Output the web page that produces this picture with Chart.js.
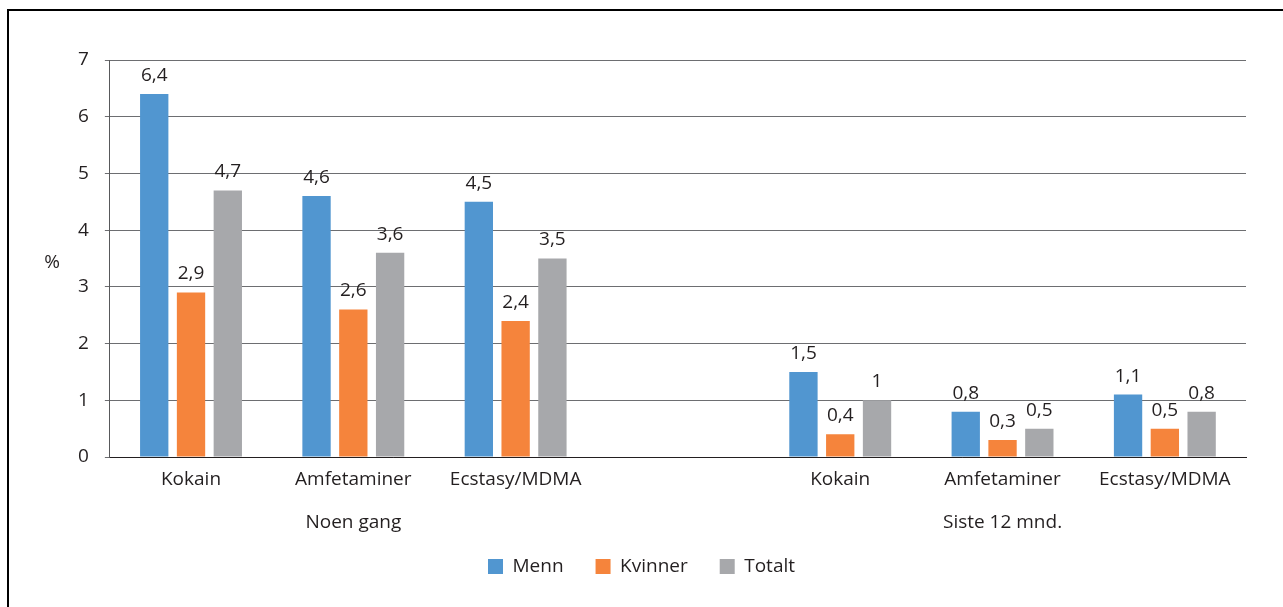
<!DOCTYPE html>
<html>
<head>
<meta charset="utf-8">
<script src="https://cdn.jsdelivr.net/npm/chart.js@4"></script>
<style>
  html, body { margin: 0; padding: 0; background: #fff; }
  body { width: 1283px; height: 607px; position: relative; overflow: hidden; }
  #frame { position: absolute; left: 7px; top: 9px; width: 1290px; height: 620px;
           border-left: 2px solid #000; border-top: 2px solid #000; }
  #wrap { position: absolute; left: 0; top: 0; width: 1283px; height: 607px; }
</style>
</head>
<body>
<div id="frame"></div>
<div id="wrap"><canvas id="chart"></canvas></div>
<script>
const categories = ['Kokain', 'Amfetaminer', 'Ecstasy/MDMA', '', 'Kokain', 'Amfetaminer', 'Ecstasy/MDMA'];
const groups = ['Noen gang', 'Siste 12 mnd.'];
const groupCenters = [1, 5]; // index of the middle category in each group
const menn = [6.4, 4.6, 4.5, null, 1.5, 0.8, 1.1];
const kvinner = [2.9, 2.6, 2.4, null, 0.4, 0.3, 0.5];
const totalt = [4.7, 3.6, 3.5, null, 1, 0.5, 0.8];
const yTicks = [0, 1, 2, 3, 4, 5, 6, 7];

const textColor = '#231f20';
const font = "'Open Sans', sans-serif";
const fontSize = 19;

const fmt = v => String(v).replace('.', ',');

const valueLabels = {
  id: 'valueLabels',
  afterDatasetsDraw(chart) {
    const ctx = chart.ctx;
    ctx.save();
    ctx.font = fontSize + 'px ' + font;
    ctx.fillStyle = textColor;
    ctx.textAlign = 'center';
    ctx.textBaseline = 'bottom';
    chart.data.datasets.forEach((ds, di) => {
      chart.getDatasetMeta(di).data.forEach((bar, i) => {
        const v = ds.data[i];
        if (v == null) return;
        ctx.fillText(fmt(v), bar.x, bar.y - 9);
      });
    });
    ctx.restore();
  }
};

// "%" beside the y axis and the group names under the categories
const extraText = {
  id: 'extraText',
  afterDraw(chart) {
    const ctx = chart.ctx;
    const a = chart.chartArea;
    const x = chart.scales.x;
    ctx.save();
    ctx.font = fontSize + 'px ' + font;
    ctx.fillStyle = textColor;
    ctx.textAlign = 'center';
    ctx.textBaseline = 'middle';
    ctx.fillText('%', 52, (a.top + a.bottom) / 2 + 4);
    groups.forEach((g, i) => {
      ctx.fillText(g, x.getPixelForValue(groupCenters[i]), a.bottom + 66);
    });
    ctx.restore();
  }
};

new Chart(document.getElementById('chart'), {
  type: 'bar',
  data: {
    labels: categories,
    datasets: [
      { label: 'Menn', data: menn, backgroundColor: '#5196d0' },
      { label: 'Kvinner', data: kvinner, backgroundColor: '#f5843c' },
      { label: 'Totalt', data: totalt, backgroundColor: '#a7a8ab' }
    ]
  },
  options: {
    responsive: true,
    maintainAspectRatio: false,
    animation: false,
    categoryPercentage: 0.68,
    barPercentage: 0.77,
    layout: { padding: { left: 37, right: 37, top: 60, bottom: 21 } },
    plugins: {
      legend: {
        position: 'bottom',
        labels: {
          boxWidth: 15, boxHeight: 15, padding: 32, color: textColor,
          font: { family: font, size: fontSize }
        }
      },
      tooltip: { enabled: false }
    },
    scales: {
      x: {
        grid: { display: false },
        border: { color: '#231f20' },
        ticks: { color: textColor, font: { family: font, size: fontSize }, padding: 3, maxRotation: 0, autoSkip: false },
        afterFit(axis) { axis.height = 68; }
      },
      y: {
        min: 0, max: 7,
        afterBuildTicks(axis) { axis.ticks = yTicks.map(v => ({ value: v })); },
        grid: { color: '#6d6e71', tickLength: 5 },
        border: { color: '#58595b' },
        ticks: { color: textColor, font: { family: font, size: fontSize }, padding: 16 },
        afterFit(axis) { axis.width += 25; }
      }
    }
  },
  plugins: [valueLabels, extraText]
});
</script>
</body>
</html>
